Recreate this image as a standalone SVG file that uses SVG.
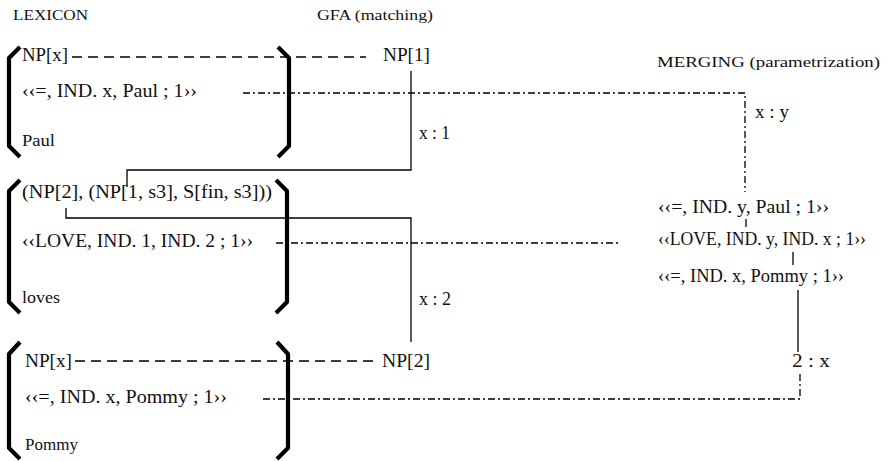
<svg xmlns="http://www.w3.org/2000/svg" width="890" height="461" viewBox="0 0 890 461">
  <style>
    .t { font-family: "Liberation Serif", "Times New Roman", serif; font-size: 19px; fill: #111; }
    .h { font-family: "Liberation Serif", "Times New Roman", serif; font-size: 15.5px; fill: #111; }
    .w { font-family: "Liberation Serif", "Times New Roman", serif; font-size: 16px; fill: #111; }
    .brk { fill: none; stroke: #000; stroke-width: 4.2; stroke-linejoin: round; }
    .ln { fill: none; stroke: #000; stroke-width: 1.3; }
    .dash { stroke-dasharray: 10 6; }
    .dd { stroke-dasharray: 7 3 2 3; }
  </style>
  <rect width="890" height="461" fill="#fff"/>

  <!-- column headings -->
  <g id="headings">
    <text class="h" x="13" y="20" textLength="75" lengthAdjust="spacingAndGlyphs">LEXICON</text>
    <text class="h" x="317" y="20" textLength="116" lengthAdjust="spacingAndGlyphs">GFA (matching)</text>
    <text class="h" x="657" y="67" textLength="223" lengthAdjust="spacingAndGlyphs">MERGING (parametrization)</text>
  </g>

  <!-- connectors -->
  <g id="connectors">
    <!-- category matching (dashed) -->
    <line class="ln dash" x1="72" y1="57" x2="366" y2="57"/>
    <line class="ln dash" x1="75" y1="361" x2="374" y2="361"/>
    <!-- semantic links (dash-dot) -->
    <polyline class="ln dd" points="243,93 745,93 745,192"/>
    <line class="ln dd" x1="276" y1="243" x2="618" y2="243"/>
    <polyline class="ln dd" points="263,399 800,399 800,373"/>
    <!-- argument bindings -->
    <polyline class="ln" points="411,71 411,170 127,170 127,187"/>
    <polyline class="ln" points="66,208 66,218 411,218 411,342"/>
    <!-- merging chain -->
    <line class="ln" x1="746" y1="219" x2="746" y2="227"/>
    <line class="ln" x1="793" y1="252" x2="793" y2="265"/>
    <line class="ln" x1="798" y1="290" x2="798" y2="352"/>
    <text class="t" x="419" y="139" textLength="31" lengthAdjust="spacingAndGlyphs">x : 1</text>
    <text class="t" x="419" y="305" textLength="32" lengthAdjust="spacingAndGlyphs">x : 2</text>
    <text class="t" x="755" y="118" textLength="34" lengthAdjust="spacingAndGlyphs">x : y</text>
    <text class="t" x="792" y="367" textLength="38" lengthAdjust="spacingAndGlyphs">2 : x</text>
  </g>

  <!-- lexicon entry: Paul -->
  <g id="lex-paul">
    <path class="brk" d="M20,47 L9,58 L9,146 L20,157"/>
    <path class="brk" d="M278,47 L289,58 L289,146 L278,157"/>
    <text class="t" x="22" y="61" textLength="46" lengthAdjust="spacingAndGlyphs">NP[x]</text>
    <text class="t" x="22" y="97" textLength="175" lengthAdjust="spacingAndGlyphs">‹‹=, IND. x, Paul ; 1››</text>
    <text class="w" x="22" y="146" textLength="33" lengthAdjust="spacingAndGlyphs">Paul</text>
  </g>

  <!-- lexicon entry: loves -->
  <g id="lex-loves">
    <path class="brk" d="M20,180 L9,191 L9,302 L20,313"/>
    <path class="brk" d="M276,180 L287,191 L287,302 L276,313"/>
    <text class="t" x="22" y="198" textLength="250" lengthAdjust="spacingAndGlyphs">(NP[2], (NP[1, s3], S[fin, s3]))</text>
    <text class="t" x="22" y="247" textLength="231" lengthAdjust="spacingAndGlyphs">‹‹LOVE, IND. 1, IND. 2 ; 1››</text>
    <text class="w" x="22" y="303" textLength="38" lengthAdjust="spacingAndGlyphs">loves</text>
  </g>

  <!-- lexicon entry: Pommy -->
  <g id="lex-pommy">
    <path class="brk" d="M20,342 L9,354 L9,448 L20,459"/>
    <path class="brk" d="M277,342 L288,354 L288,448 L277,459"/>
    <text class="t" x="25" y="367" textLength="47" lengthAdjust="spacingAndGlyphs">NP[x]</text>
    <text class="t" x="25" y="403" textLength="202" lengthAdjust="spacingAndGlyphs">‹‹=, IND. x, Pommy ; 1››</text>
    <text class="w" x="25" y="450" textLength="53" lengthAdjust="spacingAndGlyphs">Pommy</text>
  </g>

  <!-- matched categories -->
  <g id="gfa-np1">
    <text class="t" x="383" y="61" textLength="47" lengthAdjust="spacingAndGlyphs">NP[1]</text>
  </g>
  <g id="gfa-np2">
    <text class="t" x="382" y="367" textLength="48" lengthAdjust="spacingAndGlyphs">NP[2]</text>
  </g>

  <!-- merged predications -->
  <g id="merge-paul">
    <text class="t" x="658" y="213" textLength="171" lengthAdjust="spacingAndGlyphs">‹‹=, IND. y, Paul ; 1››</text>
  </g>
  <g id="merge-love">
    <text class="t" x="658" y="245" textLength="208" lengthAdjust="spacingAndGlyphs">‹‹LOVE, IND. y, IND. x ; 1››</text>
  </g>
  <g id="merge-pommy">
    <text class="t" x="658" y="282" textLength="186" lengthAdjust="spacingAndGlyphs">‹‹=, IND. x, Pommy ; 1››</text>
  </g>
</svg>
